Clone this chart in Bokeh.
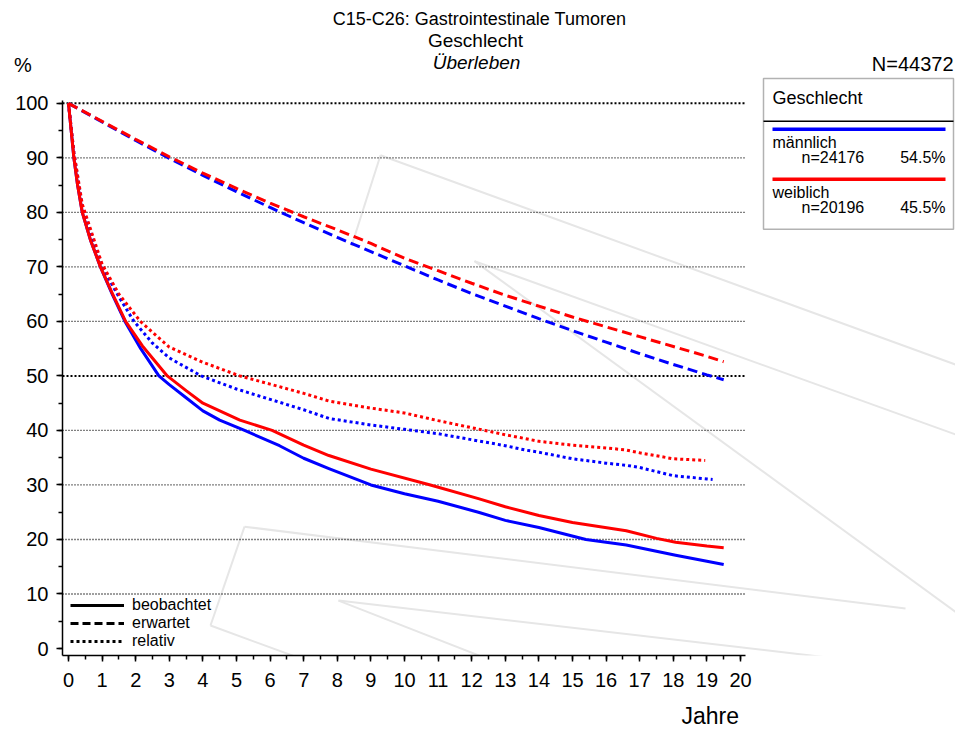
from bokeh.plotting import figure
from bokeh.models import (Range1d, SingleIntervalTicker, FixedTicker, Label, Legend, LegendItem,
                          BoxAnnotation, LinearAxis)
from bokeh.embed import file_html
from bokeh.resources import INLINE

FONT = "Liberation Sans"
NAN = float("nan")

# ---- data ----
# observed survival (beobachtet)
t_obs_m = [0, 0.08, 0.16, 0.27, 0.41, 0.65, 0.95, 1.3, 1.68, 2.15, 2.69, 3, 3.5, 4, 4.5, 5.24, 6.28, 7, 7.75, 9, 10, 11, 12.2, 13, 14, 15.4, 16.6, 18.07, 19, 19.5]
obs_m = [100, 95, 90, 85, 80, 75, 70, 65, 60, 55, 50, 48.4, 46.0, 43.6, 41.9, 40, 37.2, 34.9, 33.0, 30.0, 28.4, 27.0, 25.0, 23.5, 22.2, 20.0, 19.0, 17.1, 16.0, 15.4]
t_obs_f = [0, 0.08, 0.16, 0.27, 0.41, 0.65, 0.95, 1.3, 1.7, 2.2, 2.94, 3.5, 4, 5.1, 6.06, 7, 7.75, 9, 10.77, 12.2, 13, 14, 15, 16.6, 17.5, 18.07, 19, 19.5]
obs_f = [100, 95, 90, 85, 80, 75, 70, 65.2, 60, 55.5, 50, 47.3, 45.0, 41.9, 40, 37.3, 35.4, 32.9, 30, 27.5, 26.0, 24.4, 23.1, 21.6, 20.2, 19.5, 18.8, 18.5]

# expected survival (erwartet)
t_exp = [0, 1, 2, 3, 4, 5, 6, 7, 8, 9, 10, 11, 12, 13, 14, 15, 16, 17, 18, 19, 19.5]
exp_m = [100, 96.6, 93.2, 89.9, 86.8, 83.8, 80.9, 78.1, 75.4, 72.8, 70.2, 67.6, 65.1, 62.8, 60.5, 58.3, 56.2, 54.1, 52.1, 50.2, 49.3]
exp_f = [100, 96.7, 93.4, 90.2, 87.2, 84.4, 81.7, 79.2, 76.8, 74.3, 71.6, 69.3, 67.0, 64.8, 62.8, 60.8, 59.0, 57.2, 55.4, 53.6, 52.6]

# relative survival (relativ)
t_rel_m = [0, 0.16, 0.41, 1, 1.5, 1.95, 2.5, 3, 3.95, 5, 6, 7, 7.75, 9, 10, 11, 12, 13, 13.6, 14, 15, 16, 16.6, 17, 18, 19, 19.17]
rel_m = [100, 91, 81, 70, 64.5, 60, 56, 53.3, 50, 47.6, 45.7, 43.8, 42.2, 41.0, 40.2, 39.4, 38.3, 37.2, 36.4, 36.0, 34.8, 34.0, 33.6, 33.2, 31.7, 31.1, 31.0]
t_rel_f = [0, 0.16, 0.41, 1, 1.5, 2.14, 2.5, 3, 4, 5.1, 6, 7, 7.75, 9, 10, 11, 12, 12.4, 13, 13.6, 14, 15, 16, 16.6, 17, 18, 18.95]
rel_f = [100, 91, 81.5, 70.5, 65, 60, 58, 55.3, 52.5, 50, 48.5, 46.8, 45.4, 44.1, 43.2, 41.8, 40.5, 40, 39.2, 38.5, 38.0, 37.3, 36.8, 36.4, 35.9, 34.8, 34.5]

groups = ["männlich", "weiblich"]
group_n = ["n=24176", "n=20196"]
group_pct = ["54.5%", "45.5%"]
colors = ["#0000ff", "#ff0000"]
line_types = ["beobachtet", "erwartet", "relativ"]
y_ticks = [0, 10, 20, 30, 40, 50, 60, 70, 80, 90, 100]
x_title, x_title_at = "Jahre", 19.1
y_unit, y_unit_at = "%", 107

# ---- layout helpers (reference pixel -> data coords) ----
X0, XS = 68.0, 33.6      # x pixel of year 0, px per year
Y0, YS = 649.0, 5.46     # y pixel of 0 %, px per %
def dx(px):
    return (px - X0) / XS
def dy(py):
    return (Y0 - py) / YS

# faint background watermark strokes (pixel positions of the decoration)
watermark = [[(380, 155), (956, 365)], [(380, 155), (351, 246)],
             [(474, 261), (956, 435)], [(474, 261), (956, 613)],
             [(244, 527), (905, 609)], [(244, 527), (210, 626)], [(210, 626), (502, 733)],
             [(338, 601), (956, 673)], [(338, 601), (675, 733)]]

W, H = 955, 731
FL, FB = 62, 656          # frame left / bottom (plot area extends to top/right edge)
AX_R, AX_T = 745, 100     # visible extent of the axes
p = figure(width=W, height=H, output_backend="svg", toolbar_location=None,
           x_range=Range1d(dx(FL), dx(W)), y_range=Range1d(dy(FB), dy(0)),
           min_border_left=FL, min_border_top=0, min_border_right=0,
           min_border_bottom=H - FB)
p.outline_line_color = None
p.xgrid.visible = False
p.ygrid.visible = False
p.background_fill_color = "white"
p.border_fill_color = "white"

def style_axis(ax):
    ax.axis_line_color = "black"
    ax.axis_line_width = 1.5
    ax.major_tick_line_color = "black"
    ax.minor_tick_line_color = "black"
    ax.major_tick_line_width = 1.5
    ax.minor_tick_line_width = 1.5
    ax.major_tick_out = 6
    ax.major_tick_in = 0
    ax.minor_tick_out = 4
    ax.minor_tick_in = 0
    ax.major_label_text_font = FONT
    ax.major_label_text_font_size = "20px"
    ax.major_label_text_color = "black"

def text_only(ax):
    ax.axis_line_color = None
    ax.major_tick_line_color = None
    ax.minor_tick_line_color = None
    ax.major_tick_out = 0
    ax.minor_tick_out = 0

xa = p.xaxis[0]
style_axis(xa)
xa.ticker = SingleIntervalTicker(interval=1, num_minor_ticks=2)
xa.bounds = (dx(FL), dx(AX_R))
xa.major_label_standoff = 11

# axis title "Jahre" (second, text-only bottom axis)
xa2 = LinearAxis(ticker=FixedTicker(ticks=[x_title_at], minor_ticks=[]),
                 major_label_overrides={x_title_at: x_title})
style_axis(xa2)
text_only(xa2)
xa2.major_label_text_font_size = "23px"
xa2.major_label_standoff = 13
p.add_layout(xa2, "below")

# inner y axis: line and ticks only
ya = p.yaxis[0]
style_axis(ya)
ya.ticker = SingleIntervalTicker(interval=10, num_minor_ticks=2)
ya.bounds = (dy(FB), dy(AX_T))
ya.major_label_text_font_size = "0px"
ya.major_label_text_color = None
ya.major_label_standoff = 0

# outer y axis: tick labels and the unit sign
ya2 = LinearAxis(ticker=FixedTicker(ticks=y_ticks + [y_unit_at], minor_ticks=[]),
                 major_label_overrides={y_unit_at: y_unit + "\u00a0\u00a0\u00a0"})
style_axis(ya2)
text_only(ya2)
ya2.major_label_standoff = 8
p.add_layout(ya2, "left")

# watermark
p.multi_line(xs=[[dx(a[0]), dx(b[0])] for a, b in watermark],
             ys=[[dy(a[1]), dy(b[1])] for a, b in watermark],
             line_color="#e6e6e6", line_width=2)

# gridlines (dotted, 50 and 100 heavier)
g_norm = [v for v in y_ticks[1:] if v not in (50, 100)]
g_bold = [50, 100]
p.segment(x0=[dx(FL)] * len(g_norm), x1=[dx(AX_R)] * len(g_norm), y0=g_norm, y1=g_norm,
          line_color="black", line_width=1.3, line_dash="1 2")
p.segment(x0=[dx(FL)] * 2, x1=[dx(AX_R)] * 2, y0=g_bold, y1=g_bold,
          line_color="black", line_width=2, line_dash="2 2")

# curves
series = [((t_obs_m, obs_m), (t_exp, exp_m), (t_rel_m, rel_m)),
          ((t_obs_f, obs_f), (t_exp, exp_f), (t_rel_f, rel_f))]
for i, (ob, ex, rl) in enumerate(series):
    c = colors[i]
    p.line(ex[0], ex[1], line_color=c, line_width=3, line_dash="10 5")
    p.line(rl[0], rl[1], line_color=c, line_width=3, line_dash="3 3")
    p.line(ob[0], ob[1], line_color=c, line_width=3, line_join="round")

# line-type legend (bottom-left)
dummies = [p.line([NAN, NAN], [NAN, NAN], line_color="black", line_width=3),
           p.line([NAN, NAN], [NAN, NAN], line_color="black", line_width=3, line_dash="8 4"),
           p.line([NAN, NAN], [NAN, NAN], line_color="black", line_width=3, line_dash="3 3")]
leg = Legend(items=[LegendItem(label=l, renderers=[r]) for l, r in zip(line_types, dummies)],
             location=(8, 5), orientation="vertical", glyph_width=54, glyph_height=16,
             label_height=16, label_standoff=8, spacing=0, padding=0, margin=0,
             border_line_color=None, background_fill_alpha=0,
             label_text_font=FONT, label_text_font_size="16px", label_text_color="black")
p.add_layout(leg, "center")

# texts
def lab(x, y, text, size, align="left", style="normal"):
    p.add_layout(Label(x=dx(x), y=dy(y), text=text, text_font=FONT, text_font_size=size,
                       text_align=align, text_baseline="middle", text_color="black",
                       text_font_style=style))

lab(479, 19, "C15-C26: Gastrointestinale Tumoren", "18px", "center")
lab(475, 40, "Geschlecht", "19px", "center")
lab(476, 62, "Überleben", "19px", "center", "italic")
lab(953, 64, "N=44372", "20px", "right")

# group legend box (right)
p.add_layout(BoxAnnotation(left=dx(763), right=dx(953), top=dy(78), bottom=dy(229),
                           fill_alpha=0, line_color="black", line_width=1.5))
p.segment(x0=[dx(763)], x1=[dx(953)], y0=[dy(121)], y1=[dy(121)],
          line_color="black", line_width=1.5)
lab(772, 98, "Geschlecht", "18px")
for i in range(2):
    yb = 129 + 50 * i
    p.segment(x0=[dx(772)], x1=[dx(945)], y0=[dy(yb)], y1=[dy(yb)],
              line_color=colors[i], line_width=3.5)
    lab(772, yb + 13, groups[i], "16px")
    lab(801, yb + 28, group_n[i], "16px")
    lab(945, yb + 28, group_pct[i], "16px", "right")

open("out.html", "w").write(file_html(p, INLINE))
